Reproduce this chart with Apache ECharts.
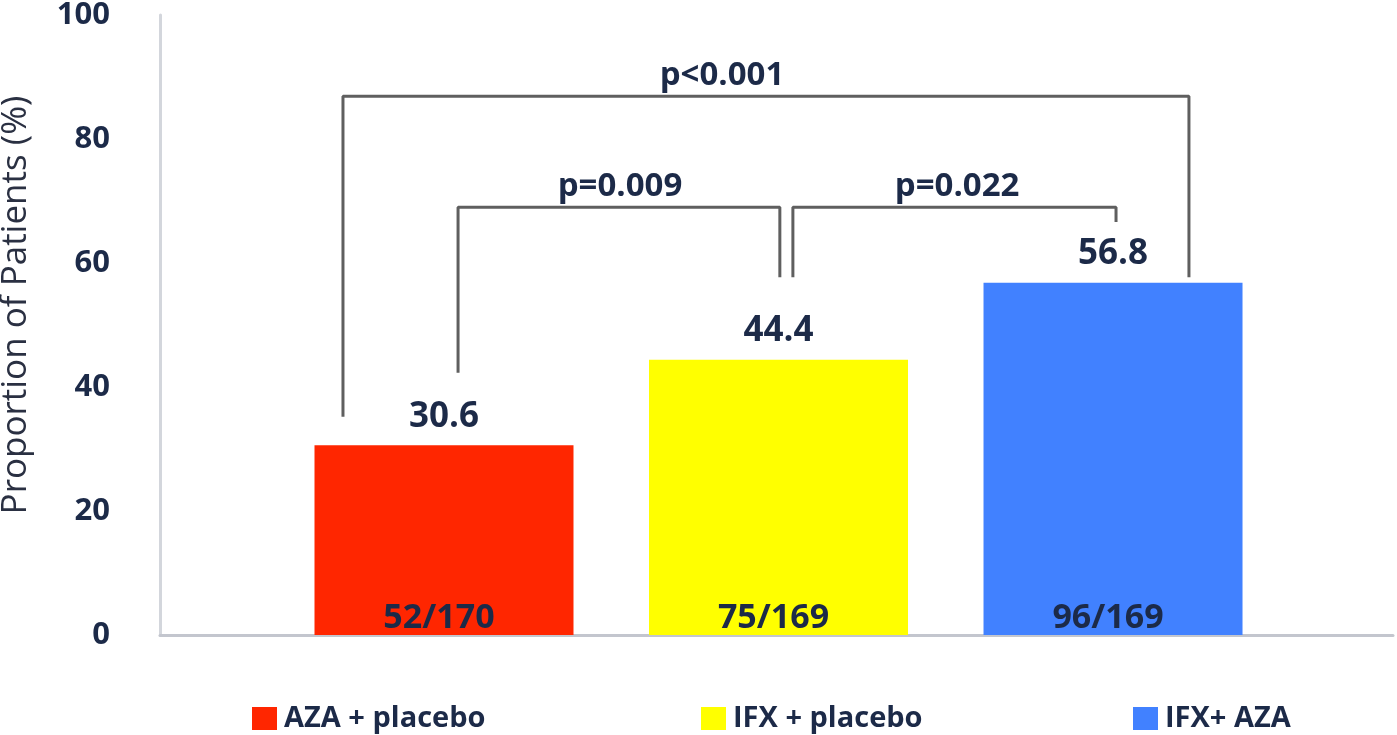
<!DOCTYPE html>
<html>
<head>
<meta charset="utf-8">
<script src="https://cdn.jsdelivr.net/npm/echarts@6/dist/echarts.min.js"></script>
<style>
html,body{margin:0;padding:0;background:#fff;}
#chart{width:1397px;height:735px;}
</style>
</head>
<body>
<div id="chart"></div>
<script>
const categories = ['AZA + placebo', 'IFX + placebo', 'IFX+ AZA'];
const values = [30.6, 44.4, 56.8];
const counts = ['52/170', '75/169', '96/169'];
const barColors = ['#ff2600', '#ffff00', '#4181ff'];
const yMin = 0, yMax = 100, yStep = 20;
// significance brackets (in axis units: category position / percent)
const bracketLabels = ['p<0.001', 'p=0.009', 'p=0.022'];
const bracketLeftX = [0.698, 1.042, 2.043];
const bracketLeftY = [35.2, 42.3, 57.7];
const bracketRightX = [3.227, 2.004, 3.009];
const bracketRightY = [57.7, 57.7, 66.6];
const bracketTopY = [86.9, 69.0, 69.0];
const bracketLabelX = [1.831, 1.526, 2.534];

const navy = '#1c2a48';
const font = '"Open Sans", "Liberation Sans", sans-serif';

const series = [];
categories.forEach((c, i) => {
  series.push({
    type: 'bar', name: c,
    data: [[i + 1, values[i]]],
    barWidth: 259, barGap: '-100%',
    itemStyle: { color: barColors[i] },
    label: {
      show: true, position: 'top', distance: 11,
      formatter: p => p.data[1].toFixed(1),
      fontFamily: font, fontWeight: 'bold', fontSize: 35, color: navy
    },
    z: 2
  });
});
series.push({
  type: 'scatter', name: 'counts', symbolSize: 0, silent: true,
  itemStyle: { opacity: 1 },
  data: counts.map((t, i) => [i + 1, 0, t]),
  label: {
    show: true, position: 'top', distance: 0, offset: [-5, 0],
    formatter: p => p.data[2],
    fontFamily: font, fontWeight: 'bold', fontSize: 34, color: navy
  },
  z: 5
});
bracketLabels.forEach((lab, i) => {
  series.push({
    type: 'line', name: 'bracket' + i, silent: true, showSymbol: false,
    data: [[bracketLeftX[i], bracketLeftY[i]], [bracketLeftX[i], bracketTopY[i]],
           [bracketRightX[i], bracketTopY[i]], [bracketRightX[i], bracketRightY[i]]],
    lineStyle: { color: '#5f5f5f', width: 3 },
    z: 3
  });
});
series.push({
  type: 'scatter', name: 'pvalues', symbolSize: 0, silent: true,
  itemStyle: { opacity: 1 },
  data: bracketLabels.map((t, i) => [bracketLabelX[i], bracketTopY[i], t]),
  label: {
    show: true, position: 'top', distance: 4,
    formatter: p => p.data[2],
    fontFamily: font, fontWeight: 'bold', fontSize: 33, color: navy
  }
});

const legendLeft = [247, 696, 1128];
const legends = categories.map((c, i) => ({
  data: [c], left: legendLeft[i], top: 699,
  icon: 'rect', itemWidth: 25, itemHeight: 23, itemGap: 0,
  selectedMode: false,
  textStyle: { fontFamily: font, fontWeight: 'bold', fontSize: 29, color: navy, padding: [0, 0, 0, 2] }
}));

const chart = echarts.init(document.getElementById('chart'));
chart.setOption({
  animation: false,
  backgroundColor: '#ffffff',
  grid: { left: 160, right: 4, top: 15, bottom: 100, containLabel: false, outerBoundsMode: 'none' },
  legend: legends,
  xAxis: {
    type: 'value', min: 0.151, max: 3.837,
    axisLine: { show: true, lineStyle: { color: '#c3c6ce', width: 3 } },
    axisTick: { show: false }, axisLabel: { show: false }, splitLine: { show: false }
  },
  yAxis: {
    type: 'value', min: yMin, max: yMax, interval: yStep,
    name: 'Proportion of Patients (%)', nameLocation: 'middle', nameGap: 126, nameRotate: 90,
    nameTextStyle: { fontFamily: font, fontSize: 35, color: '#2a3042', padding: [0, 0, 0, 40] },
    axisLine: { show: true, onZero: false, lineStyle: { color: '#d3d6dc', width: 3 } },
    axisTick: { show: false },
    axisLabel: { fontFamily: font, fontWeight: 'bold', fontSize: 31, color: navy, margin: 50 },
    splitLine: { show: false }
  },
  series: series
});
</script>
</body>
</html>
